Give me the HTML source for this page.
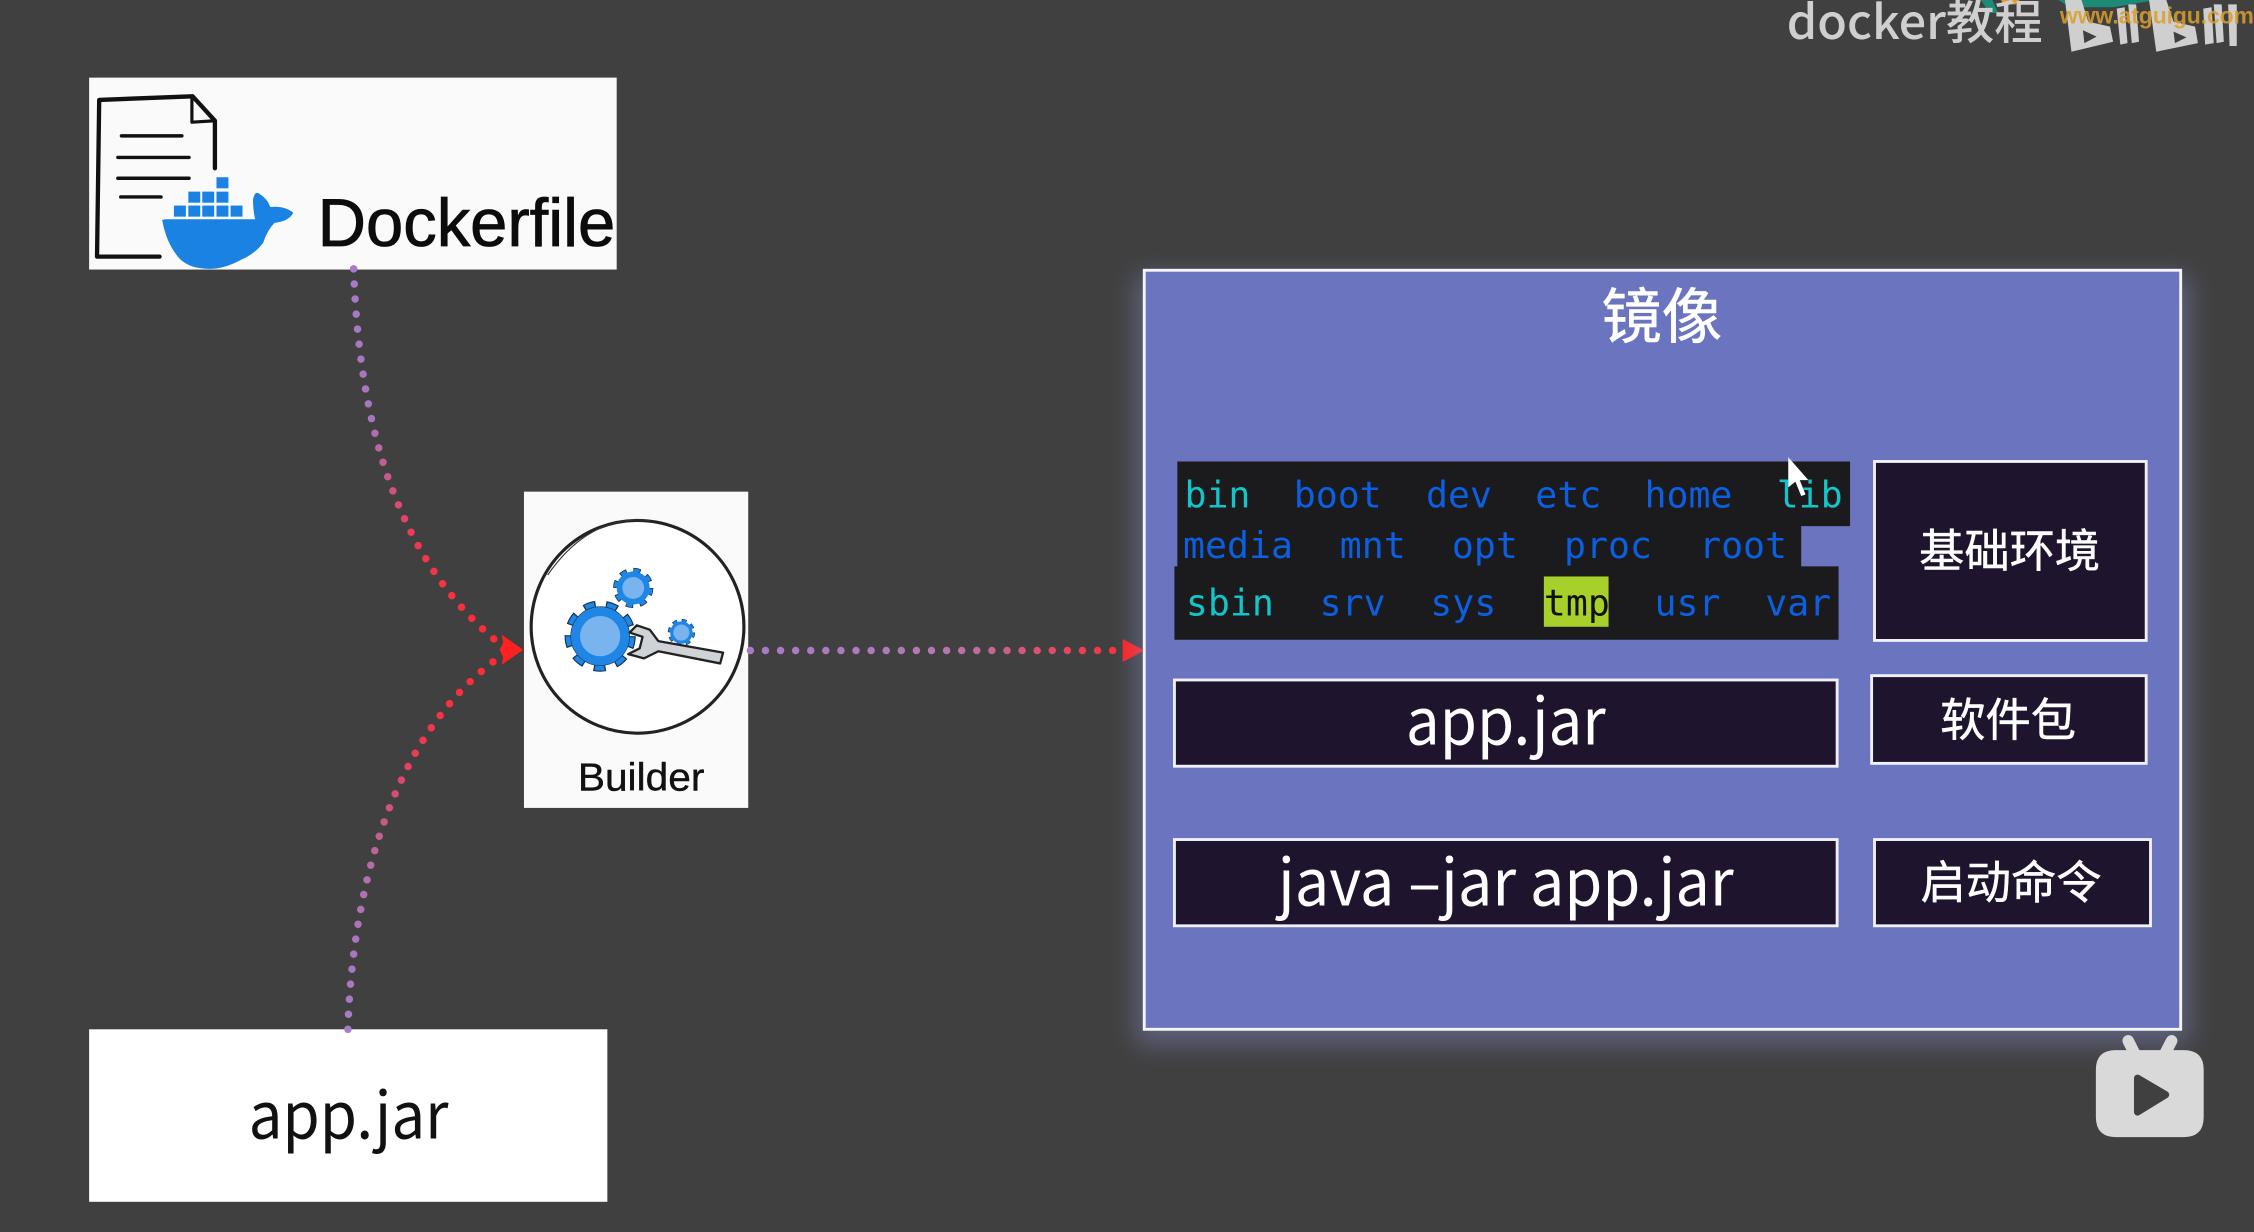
<!DOCTYPE html>
<html><head><meta charset="utf-8"><title>Docker image build</title>
<style>html,body{margin:0;padding:0;background:#404040;width:2254px;height:1232px;overflow:hidden}svg{display:block}
text{font-family:"Liberation Sans","Noto Sans CJK SC",sans-serif}
.n{font-family:"Noto Sans CJK SC","Liberation Sans",sans-serif}
.m{font-family:"DejaVu Sans Mono","Liberation Mono",monospace;font-size:25.4px}
.c{fill:#13c4c8}.b{fill:#0b5fe0}</style></head>
<body>
<svg xmlns="http://www.w3.org/2000/svg" width="2254" height="1232" viewBox="0 0 1568 857" preserveAspectRatio="none">
<defs>
<linearGradient id="g1" gradientUnits="userSpaceOnUse" x1="0" y1="187" x2="0" y2="452"><stop offset="0" stop-color="#a67cc8"/><stop offset=".4" stop-color="#a874bc"/><stop offset=".72" stop-color="#f03850"/><stop offset="1" stop-color="#ff2a30"/></linearGradient>
<linearGradient id="g2" gradientUnits="userSpaceOnUse" x1="0" y1="716" x2="0" y2="452"><stop offset="0" stop-color="#a67cc8"/><stop offset=".4" stop-color="#b070b0"/><stop offset=".75" stop-color="#f03850"/><stop offset="1" stop-color="#ff2a30"/></linearGradient>
<linearGradient id="g3" gradientUnits="userSpaceOnUse" x1="522" y1="0" x2="790" y2="0"><stop offset="0" stop-color="#a67cc8"/><stop offset=".5" stop-color="#b478b4"/><stop offset="1" stop-color="#ff2a30"/></linearGradient>
<filter id="blur" x="-10%" y="-10%" width="120%" height="120%"><feGaussianBlur stdDeviation="9"/></filter>
</defs>
<rect width="1568" height="857" fill="#404040"/>

<!-- watermark -->
<path d="M1378 0L1386 0L1390 9L1384 9Z" fill="#1c8a76"/>
<path d="M1432 0H1500L1470 5H1440Z" fill="#1c8a76"/>
<path d="M1392 0H1405L1402 3H1394Z" fill="#e0a030"/>
<text class="n" x="1243" y="27" font-size="33" font-weight="500" fill="#cfcfcf" textLength="178" lengthAdjust="spacingAndGlyphs">docker教程</text>
<g fill="#cfcfcf">
<path d="M1436.500 0H1448L1452.700 15L1467.800 18.500L1470 29L1441 36Z"/>
<path d="M1495 0H1507L1512 15L1527 18.500L1529 30L1500 36Z"/>
<path d="M1472.500 6L1478 5L1480 30L1475 31Z"/><path d="M1480.500 3L1486 3L1488 29L1483 30Z"/>
<path d="M1532.700 6L1538.500 5L1540 30L1534 31Z"/><path d="M1540 3L1545.500 3L1547 29L1542 30Z"/><path d="M1550 3L1556 3L1556 32L1551 32Z"/>
</g>
<path d="M1449 21L1458.500 25.500L1450 30Z" fill="#404040"/><path d="M1512 22L1521 26L1513 30Z" fill="#404040"/>
<text x="1433" y="16.500" font-size="16" font-weight="bold" fill="#dca02c" opacity=".85" textLength="135" lengthAdjust="spacing">www.atguigu.com</text>

<!-- Dockerfile -->
<rect x="62" y="54" width="367" height="133.500" fill="#fafafa"/>
<g fill="none" stroke="#111" stroke-linecap="round" stroke-linejoin="round">
<path d="M69 70L67.500 178.500H111" stroke-width="3"/>
<path d="M69 69.500L134 67L149.500 84V117" stroke-width="3"/>
<path d="M133.500 67V85L149.500 84" stroke-width="2.200"/>
<path d="M84.500 94.500H126.500M82 109.500H131.500M82 124H131.500M84 137H112" stroke-width="2.400"/>
</g>
<g fill="#1a82e2">
<rect x="121" y="143" width="8.300" height="7.700"/><rect x="131" y="143" width="8.300" height="7.700"/><rect x="140.700" y="143" width="8.300" height="7.700"/><rect x="150.600" y="143" width="8.300" height="7.700"/><rect x="160.400" y="143" width="8.300" height="7.700"/>
<rect x="131" y="133.300" width="8.300" height="7.700"/><rect x="140.700" y="133.300" width="8.300" height="7.700"/><rect x="150.600" y="133.300" width="8.300" height="7.700"/>
<rect x="150.600" y="123.300" width="8.300" height="7.700"/>
<path d="M113 154Q112 152.500 116 152.500H177.500Q176 146 176 139Q177 133 180 134.500Q186 138 188 144Q198 143 204 148Q201 154 191 155Q186 160 183 169Q177 177 167 181Q156 187 145.500 187Q132 187 125 180Q116 170 113 154Z"/>
</g>
<text x="221" y="171" font-size="47" fill="#0c0c0c" stroke="#0c0c0c" stroke-width=".6" textLength="207" lengthAdjust="spacingAndGlyphs">Dockerfile</text>

<!-- Builder -->
<rect x="364.500" y="342" width="156" height="220" fill="#fafafa"/>
<ellipse cx="443.500" cy="436" rx="74" ry="74" fill="#fff" stroke="#222" stroke-width="2.200"/>
<path d="M381 400Q410 358 452 362" fill="none" stroke="#333" stroke-width=".8"/>
<g>
<circle cx="417.500" cy="442.500" r="20" fill="none" stroke="#13304f" stroke-width="9.500" stroke-dasharray="7.500 6.460"/>
<circle cx="417.500" cy="442.500" r="20" fill="none" stroke="#1f86e6" stroke-width="8" stroke-dasharray="6 7.960" stroke-dashoffset="-.75"/>
<circle cx="417.500" cy="442.500" r="20.500" fill="#1f86e6" stroke="#13304f" stroke-width=".4"/>
<circle cx="417.500" cy="442.500" r="14" fill="#79b4ee"/>
<circle cx="440.500" cy="409" r="11" fill="none" stroke="#13304f" stroke-width="6" stroke-dasharray="4.500 4.140"/>
<circle cx="440.500" cy="409" r="11" fill="none" stroke="#1f86e6" stroke-width="5" stroke-dasharray="3.500 5.140" stroke-dashoffset="-.5"/>
<circle cx="440.500" cy="409" r="11.500" fill="#1f86e6"/>
<circle cx="440.500" cy="409" r="7.600" fill="#79b4ee"/>
<circle cx="474" cy="440" r="7.500" fill="none" stroke="#13304f" stroke-width="4" stroke-dasharray="3 2.890"/>
<circle cx="474" cy="440" r="7.500" fill="none" stroke="#1f86e6" stroke-width="3.200" stroke-dasharray="2.200 3.690" stroke-dashoffset="-.4"/>
<circle cx="474" cy="440" r="7.800" fill="#1f86e6"/>
<circle cx="474" cy="440" r="5.600" fill="#79b4ee"/>
<path d="M443 435L452 438L458 446L503 454L501 461.500L458 453L448 458L437 455L445 451L447 443L438 440Z" fill="#cfd2d6" stroke="#222" stroke-width="1.600" stroke-linejoin="round"/>
</g>
<text x="446" y="550" font-size="27" fill="#111" stroke="#111" stroke-width=".3" text-anchor="middle" textLength="88" lengthAdjust="spacingAndGlyphs">Builder</text>

<!-- app.jar -->
<rect x="62" y="716" width="360.500" height="120" fill="#fff"/>
<text class="n" x="173" y="792" font-size="45" fill="#111" textLength="139" lengthAdjust="spacingAndGlyphs">app.jar</text>

<!-- connectors -->
<g fill="none" stroke-width="5.200" stroke-linecap="round" stroke-dasharray="0 10.500">
<path d="M246 187C250 300 278 392 349 449" stroke="url(#g1)"/>
<path d="M242 716C245 620 272 510 349 456" stroke="url(#g2)"/>
<path d="M522 452.500H782" stroke="url(#g3)"/>
</g>
<path d="M364 452L349 441.500L350 447L347.500 452L350 457L349 462.500Z" fill="#ff2020"/>
<path d="M796 452.500L781 444.500V460.500Z" fill="#ff2020"/>

<!-- Image box -->
<rect x="790" y="192" width="733" height="534" fill="#8f98dc" opacity=".4" filter="url(#blur)"/>
<rect x="796" y="188" width="721" height="528" fill="#6b75bf" stroke="#f4f4fb" stroke-width="2"/>
<text x="1156" y="235" font-size="42" fill="#fff" stroke="#fff" stroke-width=".4" text-anchor="middle">镜像</text>

<!-- terminal -->
<path d="M819 321H1287V366H1253V394H1279V445H817V394H819Z" fill="#1b1b1d"/>
<rect x="1074" y="401" width="45" height="35" fill="#a8d02a"/>
<g class="m">
<text class="m c" x="824" y="353">bin</text><text class="m b" x="900" y="353">boot</text><text class="m b" x="992" y="353">dev</text><text class="m b" x="1068" y="353">etc</text><text class="m b" x="1144" y="353">home</text><text class="m c" x="1236" y="353">lib</text>
<text class="m b" x="823" y="388">media</text><text class="m b" x="932" y="388">mnt</text><text class="m b" x="1010" y="388">opt</text><text class="m b" x="1088" y="388">proc</text><text class="m b" x="1182" y="388">root</text>
<text class="m c" x="825" y="428">sbin</text><text class="m b" x="918" y="428">srv</text><text class="m b" x="995" y="428">sys</text><text class="m" fill="#111" x="1074" y="428">tmp</text><text class="m b" x="1151" y="428">usr</text><text class="m b" x="1228" y="428">var</text>
</g>
<path d="M1244 318V339L1249 335L1253 345L1256 344L1252 334H1258Z" fill="#fff"/>

<!-- dark boxes -->
<g fill="#1e142e" stroke="#f0f0f6" stroke-width="2">
<rect x="1304" y="321" width="189" height="124.500"/>
<rect x="817" y="473" width="461" height="60"/>
<rect x="1302" y="470" width="191" height="61"/>
<rect x="817" y="584" width="461" height="60"/>
<rect x="1304" y="584" width="192" height="60"/>
</g>
<g fill="#fff" stroke="#fff" stroke-width=".35" text-anchor="middle">
<text x="1398" y="394.500" font-size="31.500">基础环境</text>
<text x="1397" y="512" font-size="31.500">软件包</text>
<text x="1399" y="625" font-size="31.500">启动命令</text>
</g>
<text class="n" x="978" y="518" font-size="45" fill="#fff" textLength="139" lengthAdjust="spacingAndGlyphs">app.jar</text>
<text class="n" x="889" y="630" font-size="45" fill="#fff" textLength="317" lengthAdjust="spacingAndGlyphs">java –jar app.jar</text>

<!-- tv icon -->
<g fill="#d9d9d9">
<path d="M1480.500 724L1485 733M1510.700 724L1506 733" stroke="#d9d9d9" stroke-width="8" stroke-linecap="round"/>
<path d="M1472 730.500H1519Q1533 730.500 1533 744V777Q1533 791 1519 791H1472Q1458 791 1458 777V744Q1458 730.500 1472 730.500Z"/>
</g>
<path d="M1487 750L1506.500 761.500L1487 773.500Z" fill="#404040" stroke="#404040" stroke-width="5" stroke-linejoin="round"/>
</svg>
</body></html>
